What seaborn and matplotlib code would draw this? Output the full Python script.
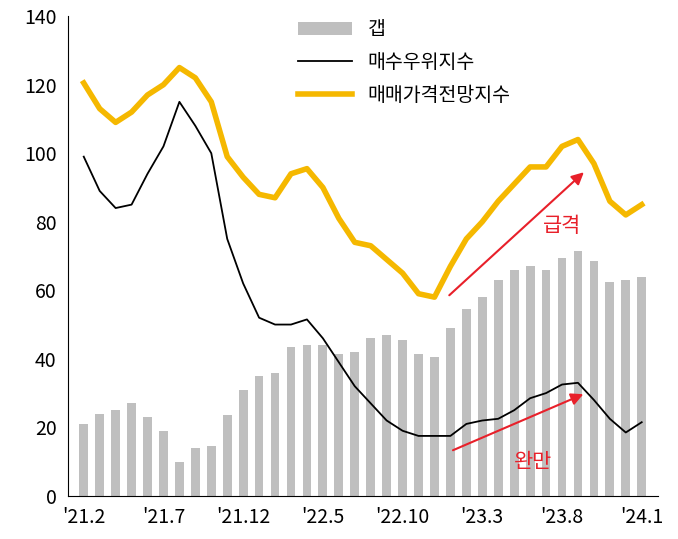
import numpy as np
import pandas as pd
import matplotlib.pyplot as plt
import seaborn as sns

plt.rcParams['font.family'] = 'sans-serif'
plt.rcParams['font.sans-serif'] = ['Noto Sans CJK KR', 'Noto Sans CJK JP', 'Noto Sans CJK SC',
                                   'Noto Sans CJK TC', 'DejaVu Sans']
plt.rcParams['axes.unicode_minus'] = False

# 데이터 ('21.2 ~ '24.1, 월별)
months = pd.period_range('2021-02', '2024-01', freq='M')
labels = [f"'{p.year % 100}.{p.month}" for p in months]
gap = [21, 24, 25, 27, 23, 19, 10, 14, 14.5, 23.5, 31, 35, 36, 43.5, 44, 44, 41.5, 42,
       46, 47, 45.5, 41.5, 40.5, 49, 54.5, 58, 63, 66, 67, 66, 69.5, 71.5, 68.5, 62.5, 63, 64]
buy_idx = [99, 89, 84, 85, 94, 102, 115, 108, 100, 75, 62, 52, 50, 50, 51.5, 46, 39, 32,
           27, 22, 19, 17.5, 17.5, 17.5, 21, 22, 22.5, 25, 28.5, 30, 32.5, 33, 28, 22.5, 18.5, 21.5]
price_idx = [120.5, 113, 109, 112, 117, 120, 125, 122, 115, 99, 93, 88, 87, 94, 95.5, 90, 81, 74,
             73, 69, 65, 59, 58, 67, 75, 80, 86, 91, 96, 96, 102, 104, 97, 86, 82, 85]

df = pd.DataFrame({'x': np.arange(len(labels)), 'gap': gap, 'buy': buy_idx, 'price': price_idx})

fig, ax = plt.subplots(figsize=(6.78, 5.39), dpi=100)
sns.barplot(data=df, x='x', y='gap', color='#bfbfbf', width=0.55, ax=ax, label='갭', native_scale=True)
sns.lineplot(data=df, x='x', y='buy', color='black', lw=1.3, ax=ax, label='매수우위지수')
sns.lineplot(data=df, x='x', y='price', color='#f5b800', lw=4, ax=ax, label='매매가격전망지수')

ax.set_xlim(-1, len(labels))
ax.set_ylim(0, 140)
ax.set_yticks(range(0, 141, 20))
ax.set_xticks(range(0, len(labels), 5))
ax.set_xticklabels(labels[::5])
ax.set_xlabel('')
ax.set_ylabel('')
ax.tick_params(labelsize=14, length=0, pad=8)
for s in ['top', 'right']:
    ax.spines[s].set_visible(False)

ax.annotate('', xy=(31.5, 95), xytext=(22.8, 58),
            arrowprops=dict(arrowstyle='-|>', color='#e8202a', lw=1.5, mutation_scale=18))
ax.text(28.8, 77, '급격', color='#e8202a', fontsize=15)
ax.annotate('', xy=(31.5, 30), xytext=(23, 13),
            arrowprops=dict(arrowstyle='-|>', color='#e8202a', lw=1.5, mutation_scale=18))
ax.text(27, 8, '완만', color='#e8202a', fontsize=15)

handles, lbls = ax.get_legend_handles_labels()
order = [lbls.index(n) for n in ['갭', '매수우위지수', '매매가격전망지수']]
ax.legend([handles[i] for i in order], [lbls[i] for i in order],
          loc='upper left', bbox_to_anchor=(0.36, 1.03), frameon=False, fontsize=14,
          handlelength=2.8, labelspacing=0.6)

plt.subplots_adjust(left=0.1, right=0.97, top=0.97, bottom=0.08)
plt.savefig('out.png', dpi=100)
